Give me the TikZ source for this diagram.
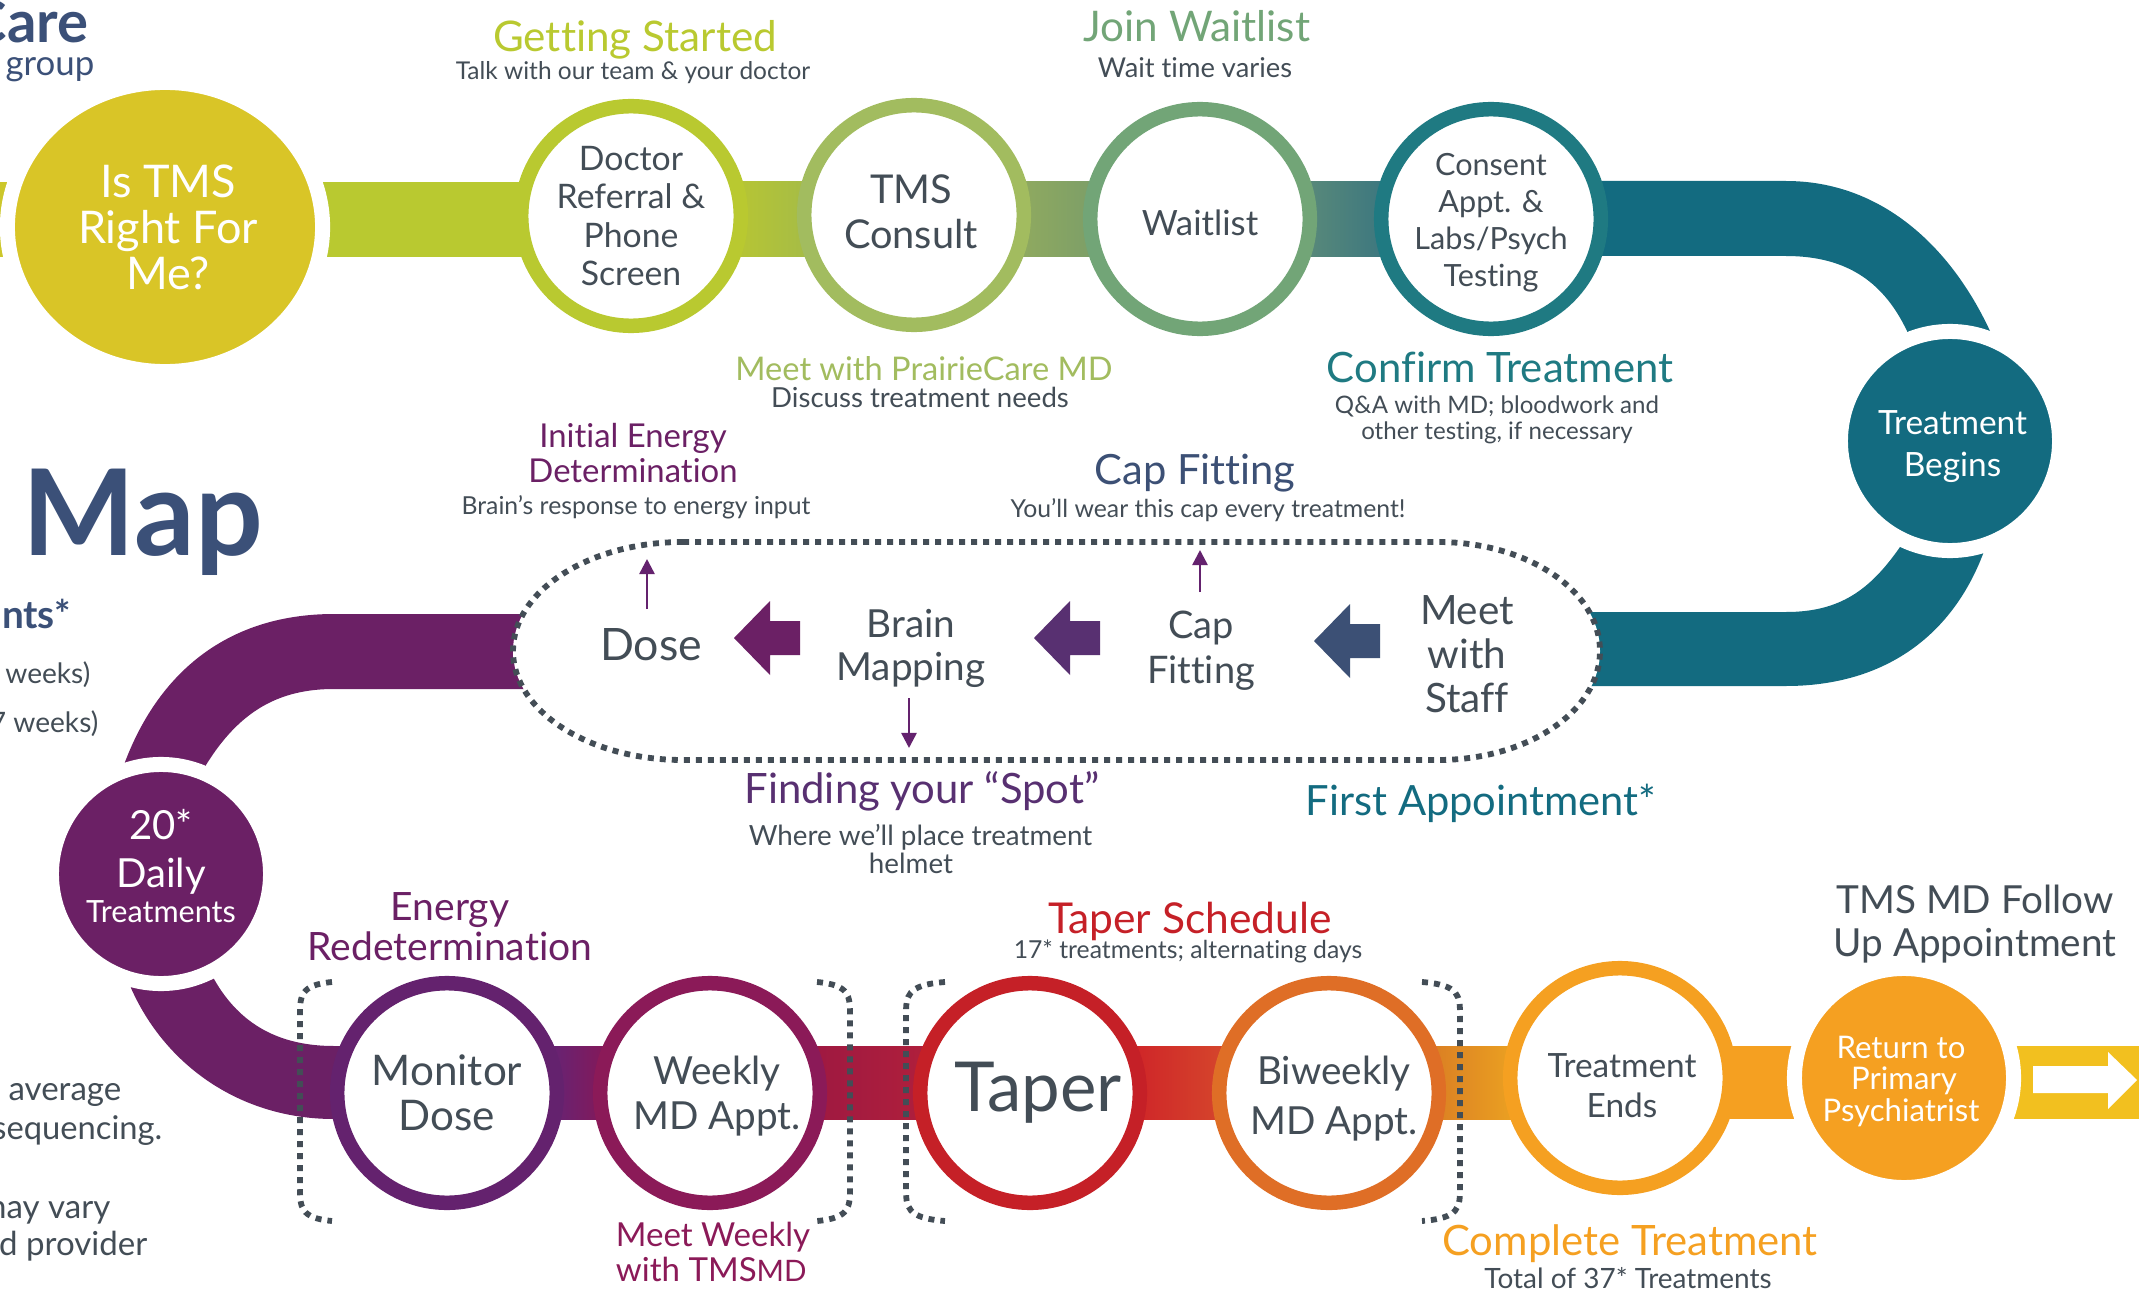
\documentclass[tikz,border=0pt]{standalone}
\usepackage{fontspec}
\setmainfont[Ligatures=NoCommon]{Lato}
\usetikzlibrary{shapes.geometric,backgrounds,arrows.meta}
\definecolor{navy}{HTML}{3B5078}
\definecolor{ink}{HTML}{434D56}
\definecolor{dotgray}{HTML}{434D56}
\definecolor{mustard}{HTML}{D9C527}
\definecolor{lime}{HTML}{B9C930}
\definecolor{sage}{HTML}{A2BC5F}
\definecolor{fern}{HTML}{72A577}
\definecolor{lagoon}{HTML}{1F7A82}
\definecolor{teal}{HTML}{136B80}
\definecolor{plum}{HTML}{6B2065}
\definecolor{grape}{HTML}{64226E}
\definecolor{wine}{HTML}{8B1A58}
\definecolor{crimson}{HTML}{C52027}
\definecolor{rust}{HTML}{DF6E26}
\definecolor{amber}{HTML}{F5A021}
\definecolor{sun}{HTML}{F2C01F}
\definecolor{doctorL}{RGB}{208,211,24}
\definecolor{doctorR}{RGB}{140,174,98}
\definecolor{consultL}{RGB}{170,186,83}
\definecolor{consultR}{RGB}{98,142,116}
\definecolor{waitL}{RGB}{127,162,114}
\definecolor{waitR}{RGB}{22,94,135}
\definecolor{monitorL}{RGB}{46,55,169}
\definecolor{monitorR}{RGB}{188,5,36}
\definecolor{weeklyL}{RGB}{143,19,70}
\definecolor{weeklyR}{RGB}{191,37,55}
\definecolor{taperL}{RGB}{201,0,35}
\definecolor{taperR}{RGB}{219,107,49}
\definecolor{biweeklyL}{RGB}{199,85,37}
\definecolor{biweeklyR}{RGB}{255,204,32}
\newcommand\fs[2]{\fontsize{#1}{#2}\selectfont}
\newcommand\pad[1]{\rule{0pt}{#1cm}}
\begin{document}
\begin{tikzpicture}[x=.01cm,y=-.01cm,
ring/.style={circle,draw=#1,fill=white,line width=.145cm,minimum size=2.195cm,inner sep=0,text=ink,align=center},
disc/.style={circle,fill=#1,draw=white,line width=.15cm,minimum size=2.19cm,inner sep=0,text=white,align=center},
lbl/.style={inner sep=0,text=#1,align=center},
dotline/.style={draw=dotgray,line width=.058cm,dash pattern=on .06cm off .06cm},
thin arrow/.style={draw=grape,line width=.025cm,-{Triangle[length=.15cm,width=.15cm]}},
leftarr/.pic={\fill[pic actions](0,0)--(36,-37)--(36,-17)--(66,-17)--(66,17)--(36,17)--(36,37)--cycle;}]
\useasboundingbox(0,0)rectangle(2139,1297);
\node[disc=mustard,ellipse,minimum width=3.15cm,minimum height=2.89cm,font=\fs{12.8}{13.1}](istms)at(165,227){\hspace*{.06cm}Is TMS\\\hspace*{.06cm}Right For\\\hspace*{.06cm}Me?};
\node[ring=lime,font=\fs{9.6}{10.95}](doctor)at(631,216){Doctor\\Referral \&\\Phone\\Screen};
\node[ring=sage,font=\fs{11.3}{12.8}](consult)at(914,215){TMS\hspace*{.06cm}\\Consult\hspace*{.06cm}\rule[-.06cm]{0pt}{.06cm}};
\node[ring=fern,font=\fs{9.9}{11}](waitlist)at(1200,219){\pad{.34}Waitlist};
\node[ring=lagoon,font=\fs{8.7}{10.5}](consent)at(1491,219){\pad{.29}Consent\\Appt. \&\\Labs/Psych\\Testing};
\node[disc=teal,font=\fs{9.5}{12}](begins)at(1950,441){\pad{.35}\hspace*{.05cm}Treatment\\\hspace*{.05cm}Begins};
\node[disc=plum,font=\fs{11.4}{13.4}](daily)at(161,874){20*\\Daily\\[-.12cm]{\fs{8.7}{11.4}Treatments\rule[-.16cm]{0pt}{.16cm}}};
\node[ring=grape,font=\fs{12}{12.8}](monitor)at(447,1093){Monitor\\Dose};
\node[ring=wine,font=\fs{11}{12.8}](weekly)at(710,1093){\pad{.35}\hspace*{.14cm}Weekly\\\hspace*{.14cm}MD Appt.};
\node[ring=crimson,font=\fs{19.6}{21}](taper)at(1030,1093){\hspace*{.16cm}Taper};
\node[ring=rust,font=\fs{11}{14.2}](biweekly)at(1329,1093){\pad{.39}\hspace*{.1cm}Biweekly\\\hspace*{.1cm}MD Appt.};
\node[ring=amber,font=\fs{9.5}{11.2}](ends)at(1620,1078){\pad{.39}\hspace*{.04cm}Treatment\\\hspace*{.04cm}Ends};
\node[disc=amber,font=\fs{8.85}{8.9}](psych)at(1904,1078){\pad{.29}Return to\hspace*{.06cm}\\Primary\hspace*{.06cm}\\Psychiatrist\hspace*{.06cm}};
\begin{pgfonlayer}{background}
\fill[mustard!60!lime](0,182)rectangle(istms.center |- 0,257);
\fill[lime](istms.center |- 0,182)rectangle(doctor.center |- 0,257);
\fill[left color=doctorL,right color=doctorR](doctor.center |- 0,182)rectangle(consult.center |- 0,257);
\fill[left color=consultL,right color=consultR](consult.center |- 0,182)rectangle(waitlist.center |- 0,257);
\fill[left color=waitL,right color=waitR](waitlist.center |- 0,182)rectangle(consent.center |- 0,257);
\fill[teal](consent.center |- 0,181)--(1786,181)..controls(1880,181)and(1950,245)..(1990,331)--(1996,360)--(1915,360)--(1907,331)..controls(1885,285)and(1850,256)..(1786,256)--(consent.center |- 0,256)--cycle;
\fill[teal](1500,612)--(1786,612)..controls(1840,612)and(1870,590)..(1900,547)--(1915,520)--(1990,525)--(1983,554)..controls(1950,640)and(1880,686)..(1786,686)--(1500,686)--cycle;
\fill[plum](560,614)--(334,614)..controls(230,614)and(160,670)..(125,762)--(118,800)--(196,800)--(206,765)..controls(240,710)and(280,689)..(334,689)--(560,689)--cycle;
\fill[plum](monitor.center |- 0,1046)--(334,1046)..controls(280,1046)and(240,1025)..(214,979)--(200,950)--(125,950)--(131,988)..controls(165,1065)and(240,1119)..(334,1119)--(monitor.center |- 0,1119)--cycle;
\fill[left color=monitorL,right color=monitorR](monitor.center |- 0,1046)rectangle(weekly.center |- 0,1119);
\fill[left color=weeklyL,right color=weeklyR](weekly.center |- 0,1046)rectangle(taper.center |- 0,1119);
\fill[left color=taperL,right color=taperR](taper.center |- 0,1046)rectangle(biweekly.center |- 0,1119);
\fill[left color=biweeklyL,right color=biweeklyR](biweekly.center |- 0,1046)rectangle(ends.center |- 0,1119);
\fill[amber](ends.center |- 0,1046)rectangle(psych.center |- 0,1119);
\fill[sun](psych.center |- 0,1046)rectangle(2139,1119);
\end{pgfonlayer}
\path[fill=white,dotline](683,542)--(1438,542)arc[start angle=-90,end angle=90,x radius=162,y radius=109]--(683,760)arc[start angle=90,end angle=270,x radius=170,y radius=109]--cycle;
\foreach \xa/\xb in {332/300,945/906,817/850,1422/1460}
\draw[dotline](\xa,982)..controls(\xb,985)and(\xb,996)..(\xb,1016)--(\xb,1187)..controls(\xb,1207)and(\xb,1218)..(\xa,1221);
\fill[white](2033,1066)--(2108,1066)--(2108,1052)--(2137,1080)--(2108,1109)--(2108,1093)--(2033,1093)--cycle;
\node[lbl=ink,font=\fs{12.7}{14},anchor=base](dose)at(651,660){Dose};
\node[lbl=ink,font=\fs{11}{12.2}](mapping)at(911,648){Brain\\Mapping};
\node[lbl=ink,font=\fs{10.8}{12.8}](fitting)at(1201,651){Cap\\Fitting};
\node[lbl=ink,font=\fs{11.5}{12.5}](staff)at(1467,654){Meet\\with\\Staff};
\path(734,638)pic[fill=plum]{leftarr};
\path(1034,638)pic[fill=grape!70!navy]{leftarr};
\path(1314,641)pic[fill=navy!90!ink]{leftarr};
\coordinate(dosefoot)at(647,609);\coordinate(dosetip)at(647,559);
\coordinate(brainfoot)at(909,698);\coordinate(braintip)at(909,748);
\coordinate(capfoot)at(1200,592);\coordinate(captip)at(1200,550);
\draw[thin arrow](dosefoot)--(dosetip);
\draw[thin arrow](brainfoot)--(braintip);
\draw[thin arrow](capfoot)--(captip);
\node[lbl=lime,font=\fs{12}{13},anchor=base](started)at(635,52){Getting Started};
\node[lbl=ink,font=\fs{6.96}{8},anchor=base](talk)at(633,80){Talk with our team \& your doctor};
\node[lbl=fern,font=\fs{12}{13},anchor=base](join)at(1197,42){Join Waitlist};
\node[lbl=ink,font=\fs{7.77}{8},anchor=base](varies)at(1195,78){Wait time varies};
\node[lbl=sage,font=\fs{9.27}{10},anchor=base](meetmd)at(924,380){Meet with PrairieCare MD};
\node[lbl=ink,font=\fs{7.85}{8},anchor=base](discuss)at(920,407){Discuss treatment needs};
\node[lbl=lagoon,font=\fs{11.9}{13},anchor=base](confirm)at(1500,382){Confirm Treatment};
\node[lbl=ink,font=\fs{6.85}{7.5}](qanda)at(1497,420){Q\&A with MD; bloodwork and\\other testing, if necessary};
\node[lbl=plum,font=\fs{9.35}{9.7}](initial)at(633,453){Initial Energy\\Determination};
\node[lbl=ink,font=\fs{7.05}{8},anchor=base](input)at(636,514){Brain’s response to energy input};
\node[lbl=navy!90!ink,font=\fs{11.85}{13},anchor=base](capfit)at(1195,484){Cap Fitting};
\node[lbl=ink,font=\fs{7.05}{8},anchor=base](every)at(1208,517){You’ll wear this cap every treatment!};
\node[lbl=grape!70!navy,font=\fs{11.9}{13},anchor=base](spot)at(922,803){Finding your “Spot”};
\node[lbl=ink,font=\fs{7.9}{8.2}](helmet)at(911,849){\hspace*{.19cm}Where we’ll place treatment\\helmet};
\node[lbl=teal,font=\fs{11.85}{13},anchor=base](first)at(1481,815){First Appointment*};
\node[lbl=plum,font=\fs{11.1}{11.4}](redet)at(450,927){Energy\\Redetermination};
\node[lbl=crimson,font=\fs{12.1}{13},anchor=base](schedule)at(1190,933){Taper Schedule};
\node[lbl=ink,font=\fs{7.04}{8},anchor=base](alternating)at(1188,958){17* treatments; alternating days};
\node[lbl=wine,font=\fs{9.4}{9.7},align=left](tmsmd)at(713,1252){Meet Weekly\\with TMS{\fs{8.4}{9.7}MD}};
\node[lbl=amber,font=\fs{11.9}{13},anchor=base](complete)at(1630,1255){Complete Treatment};
\node[lbl=ink,font=\fs{7.95}{8},anchor=base](total)at(1628,1288){Total of 37* Treatments};
\node[lbl=ink,font=\fs{11}{12}](followup)at(1975,924){TMS MD Follow\\Up Appointment};
\node[lbl=navy,font=\bfseries\fs{16.5}{17},anchor=base east](care)at(89,43){Care};
\node[lbl=navy,font=\fs{9.9}{10},anchor=base east](group)at(95,76){group};
\node[lbl=navy,font=\bfseries\fs{34}{35},anchor=base](map)at(143,555){Map};
\node[lbl=navy,font=\bfseries\fs{11}{12},anchor=base east](nts)at(72,628){nts*};
\node[lbl=ink,font=\fs{8}{9},anchor=base east](weeksa)at(91,683){weeks)};
\node[lbl=ink,font=\fs{8}{9},anchor=base east](weeksb)at(99,732){7 weeks)};
\node[lbl=ink,font=\fs{9.4}{10},anchor=base east](average)at(122,1100){average};
\node[lbl=ink,font=\fs{9.3}{10},anchor=base east](sequencing)at(163,1139){sequencing.};
\node[lbl=ink,font=\fs{9.4}{10},anchor=base east](vary)at(111,1218){may vary};
\node[lbl=ink,font=\fs{9.4}{10},anchor=base east](provider)at(148,1255){d provider};
\end{tikzpicture}
\end{document}
